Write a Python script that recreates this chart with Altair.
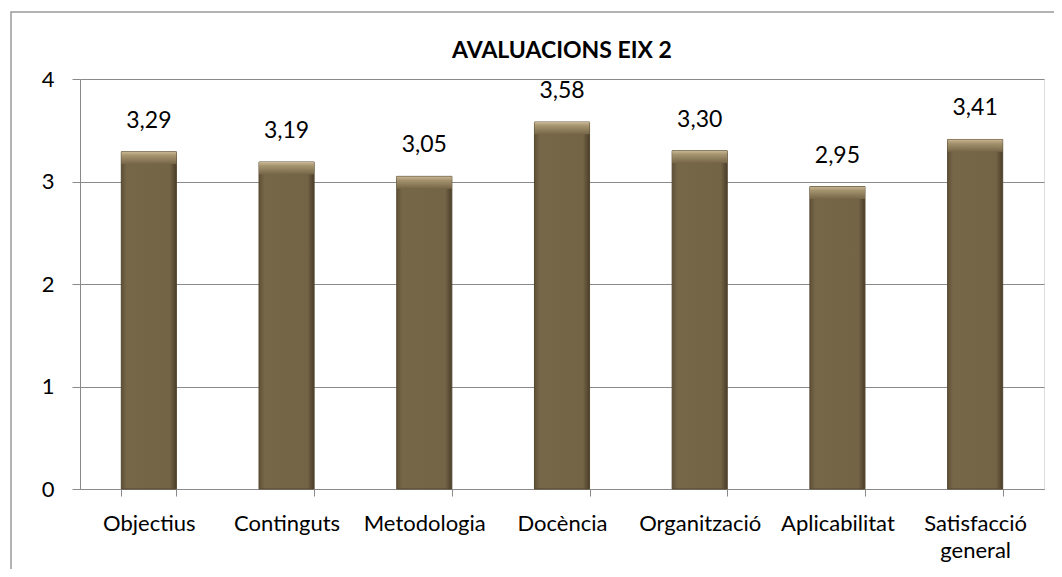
import altair as alt
import pandas as pd

categories = ["Objectius", "Continguts", "Metodologia", "Docència",
              "Organització", "Aplicabilitat", "Satisfacció general"]
values = [3.29, 3.19, 3.05, 3.58, 3.30, 2.95, 3.41]
y_ticks = [0, 1, 2, 3, 4]
title_text = "AVALUACIONS EIX 2"

df = pd.DataFrame({"cat": categories, "val": values})
df["label"] = [f"{v:.2f}".replace(".", ",") for v in values]

FONT = "Lato"
GRAY = "#8a8a8a"
W, H = 964, 410

base = alt.Chart(df)

x_enc = alt.X(
    "cat:N", sort=categories, title=None,
    scale=alt.Scale(paddingInner=0.6, paddingOuter=0.3),
    axis=alt.Axis(
        labelAngle=0, ticks=True, tickBand="extent", tickSize=7, labelPadding=17,
        domainColor=GRAY, tickColor=GRAY, tickWidth=1, labelFont=FONT, labelFontSize=22,
        labelColor="black", labelOverlap=False, grid=False, labelBaseline="top",
        labelExpr="datum.label == 'Satisfacció general' ? ['Satisfacció', 'general'] : datum.label",
        labelLineHeight=27,
    ),
)
y_enc = alt.Y(
    "val:Q", title=None, scale=alt.Scale(domain=[0, 4]),
    axis=alt.Axis(
        values=y_ticks, format="d", ticks=True, tickSize=8, tickWidth=1, labelPadding=18,
        gridColor=GRAY, domainColor=GRAY, tickColor=GRAY,
        labelFont=FONT, labelFontSize=22, labelColor="black",
    ),
)

bar_fill = alt.Gradient(
    gradient="linear", x1=0, x2=1, y1=0, y2=0,
    stops=[
        alt.GradientStop(offset=0, color="#5f5137"),
        alt.GradientStop(offset=0.1, color="#776749"),
        alt.GradientStop(offset=0.88, color="#746446"),
        alt.GradientStop(offset=1, color="#4a3e2a"),
    ],
)
bars = base.mark_bar(fill=bar_fill, stroke="#54472f", strokeWidth=1).encode(x=x_enc, y=y_enc)

bevel_fill = alt.Gradient(
    gradient="linear", x1=0, x2=0, y1=0, y2=1,
    stops=[
        alt.GradientStop(offset=0, color="#c9b894"),
        alt.GradientStop(offset=0.3, color="#a6946f"),
        alt.GradientStop(offset=1, color="#766648"),
    ],
)
bevel = base.transform_calculate(top2="datum.val - 0.12").mark_bar(
    fill=bevel_fill, strokeWidth=0
).encode(x=alt.X("cat:N", sort=categories), y="val:Q", y2="top2:Q")

labels = base.mark_text(
    dy=-24, baseline="alphabetic", font=FONT, fontSize=23, color="black"
).encode(x=alt.X("cat:N", sort=categories), y="val:Q", text="label:N")

one = pd.DataFrame({"a": [0]})
frame = alt.Chart(one).mark_rect(
    fill="transparent", stroke="#9a9a9a", strokeWidth=1.5
).encode(
    x=alt.value(-69), x2=alt.value(1010), y=alt.value(-67), y2=alt.value(600)
)

title = alt.Chart(one).mark_text(
    font=FONT, fontSize=23, fontWeight="bold", color="black",
    align="center", baseline="alphabetic",
).encode(x=alt.value(W / 2), y=alt.value(-21), text=alt.value(title_text))

chart = alt.layer(frame, bars, bevel, labels, title).properties(
    width=W, height=H,
    autosize=alt.AutoSizeParams(type="none"),
    padding={"left": 72, "top": 71, "right": 10, "bottom": 80},
).configure_view(stroke=None).configure(background="white")

chart.save("out.html", embed_options={"renderer": "svg", "actions": False})
